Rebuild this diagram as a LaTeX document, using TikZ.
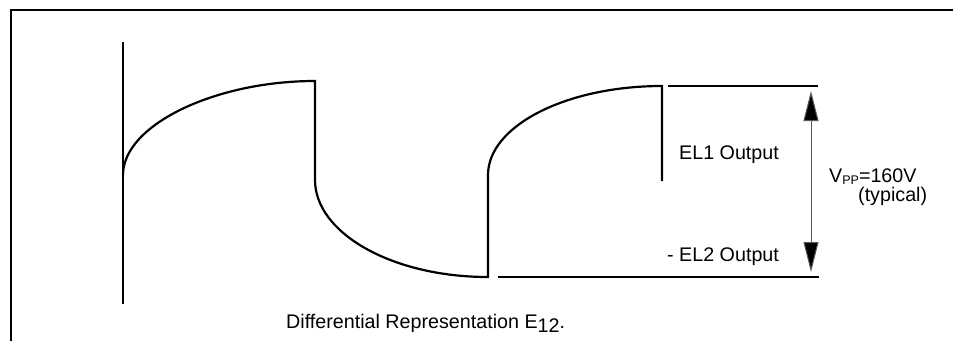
\documentclass[tikz,border=0pt]{standalone}
\usepackage{fontspec}
\setmainfont{Liberation Sans}
\usetikzlibrary{arrows.meta}
\begin{document}
\begin{tikzpicture}[x=1pt,y=-1pt]
  \tikzstyle{wave}=[line width=2.2pt,line join=miter]
  \tikzstyle{txt}=[font=\fontsize{19.7}{23}\selectfont,inner sep=0pt,anchor=base west]
  \tikzstyle{vspan}=[line width=1pt,draw=black!65,{Triangle[length=30pt,width=15pt,fill=black]}-{Triangle[length=30pt,width=15pt,fill=black]}]
  \def\vhi{86} % EL1 level
  \def\vlo{277} % EL2 level
  \def\xa{123} % time axis
  \useasboundingbox (0,0) rectangle (953,341);
  % frame
  \draw[line width=2pt] (10.5,341) -- (10.5,9.5) -- (953,9.5);
  % axis and waveform
  \draw[wave] (\xa,42) -- (\xa,304);
  \draw[wave] (\xa,175) .. controls (\xa,125) and (215,81) .. (315,81) -- (315,180)
     .. controls (315,233) and (392,\vlo) .. (488,\vlo) -- (488,175)
     .. controls (488,126) and (566,\vhi) .. (662,\vhi) -- (662,181);
  \draw[wave] (668,\vhi) -- (818,\vhi);
  \draw[wave] (498,\vlo) -- (819,\vlo);
  % peak to peak
  \coordinate (hi) at (811,\vhi);
  \coordinate (lo) at (811,\vlo);
  \draw[vspan,shorten >=5pt,shorten <=5pt] (hi) -- (lo);
  \node[txt] (el1) at (679,159) {EL1 Output};
  \node[txt] (el2) at (667,261) {- EL2 Output};
  \node[txt] (vpp) at (829,182) {V\raisebox{-0.25ex}{\fontsize{12.5}{14}\selectfont PP}=160V};
  \node[txt] (typ) at (858,201) {(typical)};
  \node[txt] (cap) at (286,328) {Differential Representation E\raisebox{-0.45ex}{12}.};
\end{tikzpicture}
\end{document}
